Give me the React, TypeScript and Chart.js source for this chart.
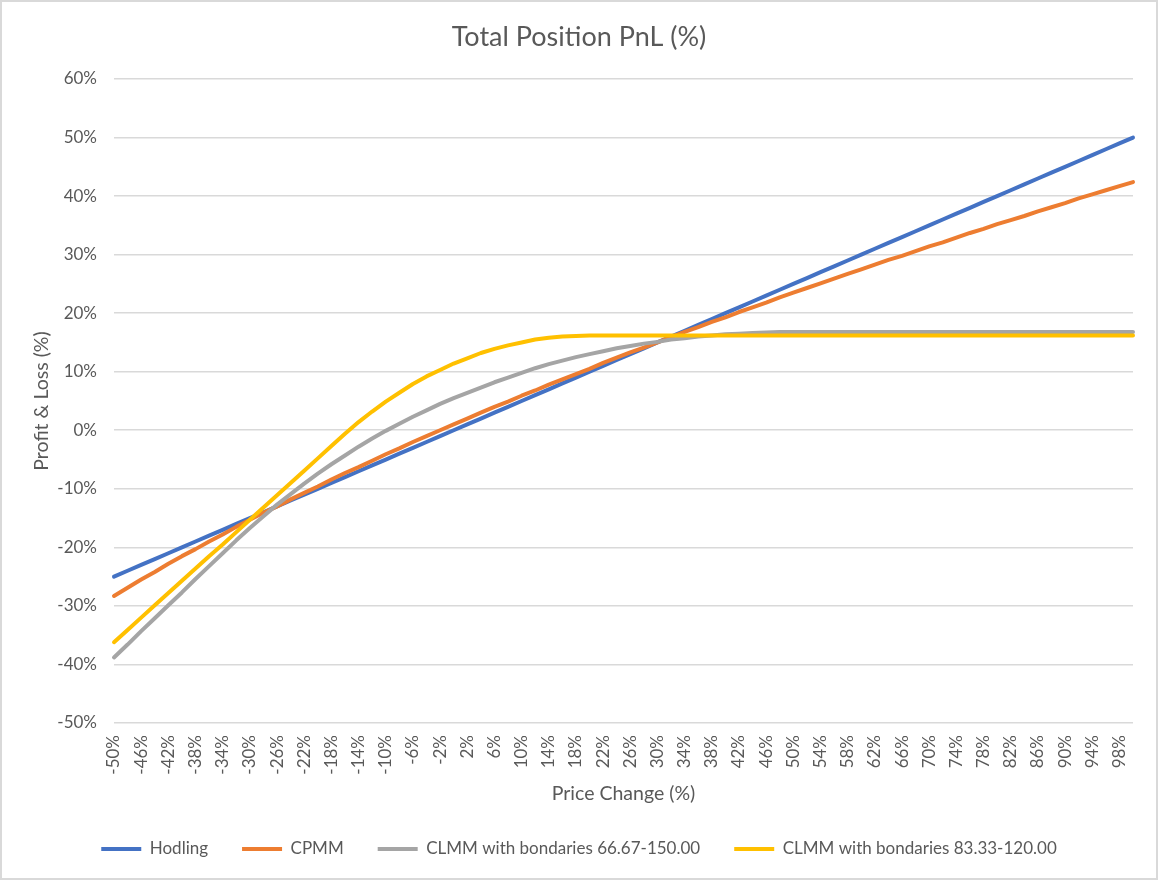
import React, { useEffect, useRef } from "react";
import { Chart, registerables } from "chart.js";

Chart.register(...registerables);

// Price change (%) – x values
const priceChange = [
  -50, -48, -46, -44, -42, -40, -38, -36, -34, -32, -30, -28, -26, -24, -22, -20, -18, -16, -14, -12,
  -10, -8, -6, -4, -2, 0, 2, 4, 6, 8, 10, 12, 14, 16, 18, 20, 22, 24, 26, 28,
  30, 32, 34, 36, 38, 40, 42, 44, 46, 48, 50, 52, 54, 56, 58, 60, 62, 64, 66, 68,
  70, 72, 74, 76, 78, 80, 82, 84, 86, 88, 90, 92, 94, 96, 98, 100,
];

const hodling = [
  -25, -24, -23, -22, -21, -20, -19, -18, -17, -16, -15, -14, -13, -12, -11, -10, -9, -8, -7, -6,
  -5, -4, -3, -2, -1, 0, 1, 2, 3, 4, 5, 6, 7, 8, 9, 10, 11, 12, 13, 14,
  15, 16, 17, 18, 19, 20, 21, 22, 23, 24, 25, 26, 27, 28, 29, 30, 31, 32, 33, 34,
  35, 36, 37, 38, 39, 40, 41, 42, 43, 44, 45, 46, 47, 48, 49, 50,
];

const cpmm = [
  -28.3, -26.9, -25.5, -24.2, -22.8, -21.5, -20.3, -19.0, -17.8, -16.5, -15.3, -14.1, -13.0, -11.8, -10.7, -9.6, -8.4, -7.3, -6.3, -5.2,
  -4.1, -3.1, -2.0, -1.0, 0.0, 1.0, 2.0, 3.0, 4.0, 4.9, 5.9, 6.8, 7.8, 8.7, 9.6, 10.5, 11.5, 12.4, 13.3, 14.1,
  15.0, 15.9, 16.8, 17.6, 18.5, 19.3, 20.2, 21.0, 21.8, 22.7, 23.5, 24.3, 25.1, 25.9, 26.7, 27.5, 28.3, 29.1, 29.8, 30.6,
  31.4, 32.1, 32.9, 33.7, 34.4, 35.2, 35.9, 36.6, 37.4, 38.1, 38.8, 39.6, 40.3, 41.0, 41.7, 42.4,
];

const clmmWide = [
  -38.8, -36.6, -34.3, -32.1, -29.9, -27.7, -25.4, -23.2, -21.0, -18.8, -16.7, -14.7, -12.7, -10.9, -9.1, -7.4, -5.8, -4.3, -2.8, -1.4,
  -0.1, 1.1, 2.3, 3.4, 4.5, 5.5, 6.4, 7.3, 8.2, 9.0, 9.8, 10.6, 11.3, 11.9, 12.5, 13.0, 13.5, 14.0, 14.4, 14.8,
  15.1, 15.5, 15.7, 16.0, 16.2, 16.4, 16.5, 16.6, 16.7, 16.8, 16.8, 16.8, 16.8, 16.8, 16.8, 16.8, 16.8, 16.8, 16.8, 16.8,
  16.8, 16.8, 16.8, 16.8, 16.8, 16.8, 16.8, 16.8, 16.8, 16.8, 16.8, 16.8, 16.8, 16.8, 16.8, 16.8,
];

const clmmNarrow = [
  -36.2, -34.1, -32.0, -29.9, -27.8, -25.7, -23.6, -21.5, -19.5, -17.4, -15.3, -13.2, -11.1, -9.0, -6.9, -4.8, -2.7, -0.6, 1.4, 3.2,
  4.9, 6.4, 7.9, 9.2, 10.3, 11.4, 12.3, 13.2, 13.9, 14.5, 15.0, 15.5, 15.8, 16.0, 16.1, 16.2, 16.2, 16.2, 16.2, 16.2,
  16.2, 16.2, 16.2, 16.2, 16.2, 16.2, 16.2, 16.2, 16.2, 16.2, 16.2, 16.2, 16.2, 16.2, 16.2, 16.2, 16.2, 16.2, 16.2, 16.2,
  16.2, 16.2, 16.2, 16.2, 16.2, 16.2, 16.2, 16.2, 16.2, 16.2, 16.2, 16.2, 16.2, 16.2, 16.2, 16.2,
];

const xTickValues = [
  -50, -46, -42, -38, -34, -30, -26, -22, -18, -14, -10, -6, -2, 2, 6, 10, 14, 18, 22, 26,
  30, 34, 38, 42, 46, 50, 54, 58, 62, 66, 70, 74, 78, 82, 86, 90, 94, 98,
];

const seriesNames = [
  "Hodling",
  "CPMM",
  "CLMM with bondaries 66.67-150.00",
  "CLMM with bondaries 83.33-120.00",
];
const seriesColors = ["#4472C4", "#ED7D31", "#A5A5A5", "#FFC000"];

const FONT = "Lato, 'Open Sans', sans-serif";
const TEXT = "#595959";

export default function App() {
  const ref = useRef<HTMLCanvasElement | null>(null);

  useEffect(() => {
    document.body.style.margin = "0";
    const canvas = ref.current;
    if (!canvas) return;
    const all = [hodling, cpmm, clmmWide, clmmNarrow];
    const chart = new Chart(canvas, {
      type: "line",
      data: {
        datasets: all.map((arr, i) => ({
          label: seriesNames[i],
          data: arr.map((y, j) => ({ x: priceChange[j], y })),
          borderColor: seriesColors[i],
          backgroundColor: seriesColors[i],
          borderWidth: 4,
          borderCapStyle: "round" as const,
          borderJoinStyle: "round" as const,
          pointRadius: 0,
          tension: 0,
          clip: false as any,
          order: 4 - i,
        })),
      },
      options: {
        responsive: false,
        animation: false,
        devicePixelRatio: 1,
        layout: { padding: { left: 12, right: 12, top: 0, bottom: 10.5 } },
        plugins: {
          tooltip: { enabled: false },
          title: {
            display: true,
            text: "Total Position PnL (%)",
            color: TEXT,
            font: { family: FONT, size: 27, weight: "normal" },
            padding: { top: 18.8, bottom: 25.8 },
          },
          legend: {
            position: "bottom",
            labels: {
              color: TEXT,
              font: { family: FONT, size: 17 },
              usePointStyle: true,
              pointStyle: "line",
              pointStyleWidth: 40,
              padding: 34,
              sort: (a: any, b: any) => a.datasetIndex - b.datasetIndex,
            },
          },
        },
        scales: {
          x: {
            type: "linear",
            min: -50,
            max: 100,
            afterBuildTicks: (scale: any) => {
              scale.ticks = xTickValues.map((v) => ({ value: v }));
            },
            afterFit: (scale: any) => {
              scale.height = 83.5;
            },
            grid: { display: false, drawTicks: false },
            border: { display: false },
            ticks: {
              autoSkip: false,
              maxRotation: 90,
              minRotation: 90,
              padding: 12,
              color: TEXT,
              font: { family: FONT, size: 17 },
              callback: (v: any) => v + "%",
            },
            title: {
              display: true,
              text: "Price Change (%)",
              color: TEXT,
              font: { family: FONT, size: 19.5 },
              padding: { top: 0, bottom: 0.8 },
            },
          },
          y: {
            type: "linear",
            min: -50,
            max: 60,
            afterFit: (scale: any) => {
              scale.width = 100;
            },
            grid: { color: "#D9D9D9", lineWidth: 1.6, drawTicks: false },
            border: { display: false },
            ticks: {
              stepSize: 10,
              padding: 17,
              color: TEXT,
              font: { family: FONT, size: 17 },
              callback: (v: any) => v + "%",
            },
            title: {
              display: true,
              text: "Profit & Loss (%)",
              color: TEXT,
              font: { family: FONT, size: 19.5 },
              padding: { top: 16.3, bottom: 0 },
            },
          },
          spacer: {
            type: "linear",
            position: "right",
            display: true,
            afterFit: (scale: any) => {
              scale.width = 11;
            },
            grid: { display: false, drawTicks: false },
            border: { display: false },
            ticks: { display: false },
          },
        },
      },
    });
    return () => chart.destroy();
  }, []);

  return (
    <div
      style={{
        width: 1158,
        height: 880,
        boxSizing: "border-box",
        border: "2px solid #D9D9D9",
        background: "#fff",
      }}
    >
      <canvas ref={ref} width={1154} height={876} style={{ display: "block" }} />
    </div>
  );
}
